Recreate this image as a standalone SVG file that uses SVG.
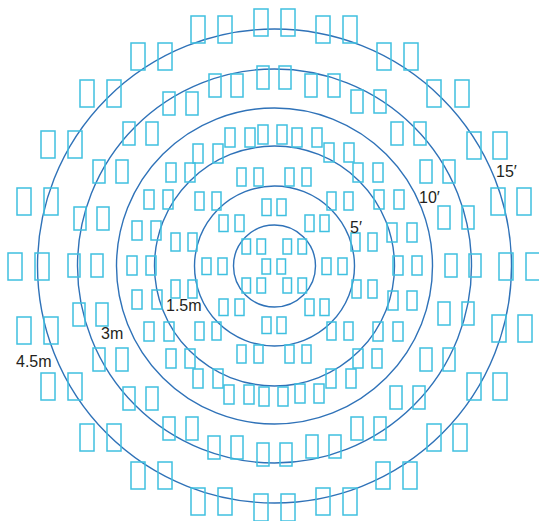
<svg xmlns="http://www.w3.org/2000/svg" xmlns:xlink="http://www.w3.org/1999/xlink" width="539" height="521" viewBox="0 0 539 521">
<style>
.ring{fill:none;stroke:#2f72b8;stroke-width:1.4}
.seat{fill:none;stroke:#3fc0e0;stroke-width:1.5}
.lbl{font-family:"Liberation Sans","DejaVu Sans",Arial,sans-serif;font-size:16px;fill:#231f20}
</style>
<defs>
<rect id="ra" class="seat" width="14" height="27"/>
<rect id="rb" class="seat" width="12" height="23"/>
<rect id="rc" class="seat" width="10" height="19"/>
<rect id="rd" class="seat" width="9" height="18"/>
<rect id="re" class="seat" width="9" height="16.5"/>
<rect id="rf" class="seat" width="8.5" height="15"/>
</defs>
<rect width="539" height="521" fill="#fff"/>
<g id="circles">
<circle class="ring" cx="274.5" cy="266" r="41"/>
<circle class="ring" cx="274.5" cy="266" r="80"/>
<circle class="ring" cx="274.5" cy="266" r="120"/>
<circle class="ring" cx="274.5" cy="266" r="158"/>
<circle class="ring" cx="274.5" cy="266" r="197"/>
<circle class="ring" cx="274.5" cy="266" r="237"/>
</g>
<g id="ringA">
<use href="#ra" x="254" y="9"/><use href="#ra" x="281" y="9"/>
<use href="#ra" x="191" y="16"/><use href="#ra" x="218" y="16"/>
<use href="#ra" x="131" y="43"/><use href="#ra" x="158" y="43"/>
<use href="#ra" x="80" y="80"/><use href="#ra" x="107" y="80"/>
<use href="#ra" x="41" y="131"/><use href="#ra" x="68" y="131"/>
<use href="#ra" x="17" y="188"/><use href="#ra" x="44" y="188"/>
<use href="#ra" x="8" y="253"/><use href="#ra" x="35" y="253"/>
<use href="#ra" x="17" y="317"/><use href="#ra" x="44" y="317"/>
<use href="#ra" x="41" y="373"/><use href="#ra" x="68" y="373"/>
<use href="#ra" x="80" y="424"/><use href="#ra" x="107" y="424"/>
<use href="#ra" x="131" y="462"/><use href="#ra" x="158" y="462"/>
<use href="#ra" x="191" y="488"/><use href="#ra" x="218" y="488"/>
<use href="#ra" x="254" y="494"/><use href="#ra" x="281" y="494"/>
<use href="#ra" x="316" y="488"/><use href="#ra" x="343" y="488"/>
<use href="#ra" x="376" y="462"/><use href="#ra" x="403" y="462"/>
<use href="#ra" x="427" y="424"/><use href="#ra" x="453" y="424"/>
<use href="#ra" x="467" y="373"/><use href="#ra" x="493" y="373"/>
<use href="#ra" x="492" y="315"/><use href="#ra" x="518" y="315"/>
<use href="#ra" x="499" y="253"/><use href="#ra" x="526" y="253"/>
<use href="#ra" x="491" y="188"/><use href="#ra" x="517" y="188"/>
<use href="#ra" x="467" y="132"/><use href="#ra" x="493" y="132"/>
<use href="#ra" x="427" y="80"/><use href="#ra" x="455" y="80"/>
<use href="#ra" x="377" y="43"/><use href="#ra" x="404" y="43"/>
<use href="#ra" x="316" y="16"/><use href="#ra" x="343" y="16"/>
</g>
<g id="ringB">
<use href="#rb" x="257" y="66"/><use href="#rb" x="279" y="66"/>
<use href="#rb" x="209" y="74"/><use href="#rb" x="231" y="74"/>
<use href="#rb" x="163" y="92"/><use href="#rb" x="186" y="92"/>
<use href="#rb" x="123" y="122"/><use href="#rb" x="146" y="122"/>
<use href="#rb" x="93" y="160"/><use href="#rb" x="116" y="160"/>
<use href="#rb" x="74" y="207"/><use href="#rb" x="97" y="207"/>
<use href="#rb" x="68" y="254"/><use href="#rb" x="91" y="254"/>
<use href="#rb" x="73" y="303"/><use href="#rb" x="96" y="303"/>
<use href="#rb" x="93" y="348"/><use href="#rb" x="116" y="348"/>
<use href="#rb" x="123" y="387"/><use href="#rb" x="146" y="387"/>
<use href="#rb" x="163" y="417"/><use href="#rb" x="186" y="417"/>
<use href="#rb" x="208" y="436"/><use href="#rb" x="231" y="436"/>
<use href="#rb" x="257" y="443"/><use href="#rb" x="280" y="443"/>
<use href="#rb" x="306" y="435"/><use href="#rb" x="329" y="435"/>
<use href="#rb" x="351" y="417"/><use href="#rb" x="374" y="417"/>
<use href="#rb" x="390" y="386"/><use href="#rb" x="413" y="386"/>
<use href="#rb" x="420" y="348"/><use href="#rb" x="443" y="348"/>
<use href="#rb" x="438" y="302"/><use href="#rb" x="462" y="302"/>
<use href="#rb" x="445" y="254"/><use href="#rb" x="469" y="254"/>
<use href="#rb" x="438" y="206"/><use href="#rb" x="462" y="206"/>
<use href="#rb" x="420" y="160"/><use href="#rb" x="443" y="160"/>
<use href="#rb" x="391" y="122"/><use href="#rb" x="414" y="122"/>
<use href="#rb" x="351" y="90"/><use href="#rb" x="374" y="90"/>
<use href="#rb" x="305" y="74"/><use href="#rb" x="328" y="74"/>
</g>
<g id="ringC">
<use href="#rc" x="258" y="125"/><use href="#rc" x="277" y="125"/>
<use href="#rc" x="225" y="128"/><use href="#rc" x="245" y="128"/>
<use href="#rc" x="193" y="144"/><use href="#rc" x="213" y="144"/>
<use href="#rc" x="166" y="163"/><use href="#rc" x="185" y="163"/>
<use href="#rc" x="144" y="190"/><use href="#rc" x="163" y="190"/>
<use href="#rc" x="132" y="221"/><use href="#rc" x="151" y="221"/>
<use href="#rc" x="127" y="256"/><use href="#rc" x="146" y="256"/>
<use href="#rc" x="132" y="290"/><use href="#rc" x="152" y="290"/>
<use href="#rc" x="144" y="322"/><use href="#rc" x="164" y="322"/>
<use href="#rc" x="166" y="349"/><use href="#rc" x="185" y="349"/>
<use href="#rc" x="193" y="369"/><use href="#rc" x="213" y="369"/>
<use href="#rc" x="224" y="385"/><use href="#rc" x="244" y="385"/>
<use href="#rc" x="259" y="387"/><use href="#rc" x="278" y="387"/>
<use href="#rc" x="295" y="384"/><use href="#rc" x="314" y="384"/>
<use href="#rc" x="326" y="369"/><use href="#rc" x="346" y="369"/>
<use href="#rc" x="353" y="349"/><use href="#rc" x="372" y="349"/>
<use href="#rc" x="373" y="322"/><use href="#rc" x="393" y="322"/>
<use href="#rc" x="388" y="291"/><use href="#rc" x="407" y="291"/>
<use href="#rc" x="393" y="256"/><use href="#rc" x="412" y="256"/>
<use href="#rc" x="387" y="223"/><use href="#rc" x="407" y="223"/>
<use href="#rc" x="374" y="190"/><use href="#rc" x="394" y="190"/>
<use href="#rc" x="353" y="163"/><use href="#rc" x="373" y="163"/>
<use href="#rc" x="324" y="143"/><use href="#rc" x="344" y="143"/>
<use href="#rc" x="292" y="128"/><use href="#rc" x="312" y="128"/>
</g>
<g id="ringD">
<use href="#rd" x="237" y="168"/><use href="#rd" x="254" y="168"/>
<use href="#rd" x="285" y="168"/><use href="#rd" x="302" y="168"/>
<use href="#rd" x="195" y="192"/><use href="#rd" x="212" y="192"/>
<use href="#rd" x="327" y="192"/><use href="#rd" x="344" y="192"/>
<use href="#rd" x="171" y="233"/><use href="#rd" x="188" y="233"/>
<use href="#rd" x="351" y="233"/><use href="#rd" x="368" y="233"/>
<use href="#rd" x="171" y="280"/><use href="#rd" x="188" y="280"/>
<use href="#rd" x="352" y="280"/><use href="#rd" x="368" y="280"/>
<use href="#rd" x="195" y="322"/><use href="#rd" x="212" y="322"/>
<use href="#rd" x="327" y="322"/><use href="#rd" x="344" y="322"/>
<use href="#rd" x="237" y="345"/><use href="#rd" x="254" y="345"/>
<use href="#rd" x="285" y="345"/><use href="#rd" x="302" y="345"/>
</g>
<g id="ringE">
<use href="#re" x="262" y="199"/><use href="#re" x="277" y="199"/>
<use href="#re" x="219" y="215"/><use href="#re" x="235" y="215"/>
<use href="#re" x="305" y="215"/><use href="#re" x="320" y="215"/>
<use href="#re" x="202" y="258"/><use href="#re" x="218" y="258"/>
<use href="#re" x="322" y="258"/><use href="#re" x="338" y="258"/>
<use href="#re" x="219" y="299"/><use href="#re" x="235" y="299"/>
<use href="#re" x="305" y="299"/><use href="#re" x="320" y="299"/>
<use href="#re" x="262" y="317"/><use href="#re" x="277" y="317"/>
</g>
<g id="ringF">
<use href="#rf" x="242" y="239"/><use href="#rf" x="257" y="239"/>
<use href="#rf" x="283" y="239"/><use href="#rf" x="298" y="239"/>
<use href="#rf" x="262" y="259"/><use href="#rf" x="277" y="259"/>
<use href="#rf" x="242" y="278"/><use href="#rf" x="257" y="278"/>
<use href="#rf" x="283" y="278"/><use href="#rf" x="298" y="278"/>
</g>
<g id="labels">
<text class="lbl" x="350" y="233">5′</text>
<text class="lbl" x="419" y="203">10′</text>
<text class="lbl" x="496" y="177">15′</text>
<text class="lbl" x="166" y="311">1.5m</text>
<text class="lbl" x="101" y="339">3m</text>
<text class="lbl" x="16" y="367">4.5m</text>
</g>
</svg>
